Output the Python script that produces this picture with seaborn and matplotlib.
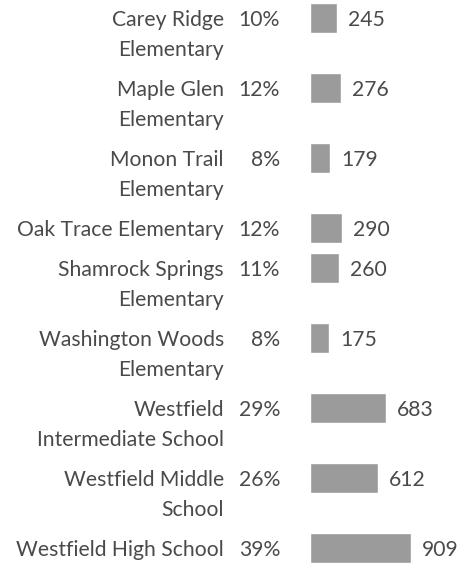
import matplotlib
matplotlib.use("Agg")
import matplotlib.pyplot as plt
import pandas as pd
import seaborn as sns

# Data
schools = [
    "Carey Ridge\nElementary",
    "Maple Glen\nElementary",
    "Monon Trail\nElementary",
    "Oak Trace Elementary",
    "Shamrock Springs\nElementary",
    "Washington Woods\nElementary",
    "Westfield\nIntermediate School",
    "Westfield Middle\nSchool",
    "Westfield High School",
]
counts = [245, 276, 179, 290, 260, 175, 683, 612, 909]
shares = ["10%", "12%", "8%", "12%", "11%", "8%", "29%", "26%", "39%"]

sns.set_theme(style="white")
plt.rcParams["font.family"] = ["Lato", "DejaVu Sans"]

TEXT = "#4a4a4a"
BAR = "#9b9b9b"
FS = 15.2

# row positions in pixels: two-line labels take more room
ypos = []
y = 18
for s in schools:
    ypos.append(y)
    y += 70 if "\n" in s else 40

df = pd.DataFrame({"school": schools, "count": counts, "y": ypos})

fig = plt.figure(figsize=(4.64, 5.63), dpi=100)
ax = fig.add_axes([0, 0, 1, 1])

sns.barplot(data=df, x="count", y="y", orient="h", native_scale=True,
            color=BAR, saturation=1, width=0.75, ax=ax)

# 1 px = 9 units, bars start at px 310
ax.set_xlim(-310 * 9, (464 - 310) * 9)
ax.set_ylim(563, 0)
ax.axis("off")

for s, c, p, yy in zip(schools, counts, shares, ypos):
    for i, line in enumerate(s.split("\n")):
        ax.text(-86 * 9, yy + 30 * i + 7.5, line, ha="right", va="baseline",
                fontsize=FS, color=TEXT)
    ax.text(-30 * 9, yy + 7.5, p, ha="right", va="baseline", fontsize=FS, color=TEXT)
    ax.text(c + 11 * 9, yy + 7.5, str(c), ha="left", va="baseline", fontsize=FS, color=TEXT)

fig.savefig("out.png", dpi=100)
